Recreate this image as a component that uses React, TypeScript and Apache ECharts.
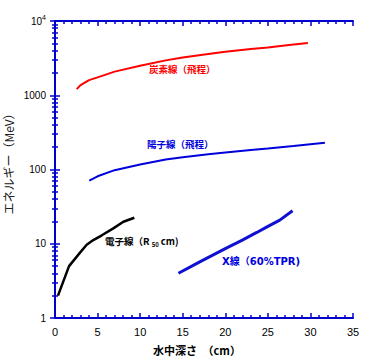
import React, { useEffect, useRef } from "react";
import * as echarts from "echarts";

const carbonX = [2.55, 3, 4, 5, 7, 10, 13, 15, 18, 20, 23, 25, 27.5, 29.7];
const carbonY = [1208, 1370, 1600, 1740, 2080, 2490, 2950, 3230, 3600, 3840, 4200, 4400, 4750, 5070];

const protonX = [4.03, 5, 7, 10, 13, 15, 18, 20, 23, 25, 28, 31.7];
const protonY = [71, 81, 98, 117, 136, 146, 161, 170, 183, 192, 207, 229];

const electronX = [0.35, 1.65, 2.94, 3.72, 4.5, 5.5, 6.85, 8.03, 9.32];
const electronY = [2.0, 5.0, 7.6, 9.7, 11.2, 13.0, 16.1, 19.8, 22.4];

const xrayX = [14.5, 17, 20, 22, 23.7, 24.9, 26.4, 27.9];
const xrayY = [4.0, 5.7, 8.6, 11.2, 14.2, 16.9, 20.8, 27.8];

const xTicks = [0, 5, 10, 15, 20, 25, 30, 35];
const yMinor = [2, 3, 4, 5, 6, 7, 8, 9, 20, 30, 40, 50, 60, 70, 80, 90, 200, 300, 400, 500, 600, 700, 800, 900, 2000, 3000, 4000, 5000, 6000, 7000, 8000, 9000];

const BLUE = "#0000cc";
const zip = (xs: number[], ys: number[]) => xs.map((x, i) => [x, ys[i]]);

const gridPos = { left: 55, right: 24, top: 21, bottom: 43 };

export default function App() {
  const ref = useRef<HTMLDivElement>(null);
  useEffect(() => {
    if (!ref.current) return;
    const chart = echarts.init(ref.current, null, { renderer: "svg" });
    const baseX = {
      type: "value",
      min: xTicks[0],
      max: xTicks[xTicks.length - 1],
      interval: 5,
      splitLine: { show: false },
      axisLine: { show: true, onZero: false, lineStyle: { color: BLUE, width: 2 } },
      axisTick: { show: true, inside: true, length: 5, lineStyle: { color: BLUE, width: 1.5 } },
      minorTick: { show: true, splitNumber: 5, length: 3, lineStyle: { color: BLUE, width: 1.5 } },
    };
    const baseY = {
      type: "log",
      logBase: 10,
      min: 1,
      max: 10000,
      splitLine: { show: false },
      minorTick: { show: false },
    };
    const hiddenX = (gi: number) => ({ type: "value", min: 0, max: 35, show: false, gridIndex: gi });
    const option: any = {
      animation: false,
      backgroundColor: "#ffffff",
      grid: [0, 1, 2, 3].map(() => ({ ...gridPos, containLabel: false })),
      xAxis: [
        {
          ...baseX,
          gridIndex: 0,
          position: "bottom",
          axisLabel: {
            show: true,
            margin: 8,
            color: "#000",
            fontFamily: "Liberation Sans, Arial, sans-serif",
            fontSize: 11,
          },
        },
        { ...baseX, gridIndex: 1, position: "top", axisLabel: { show: false } },
        hiddenX(2),
        hiddenX(3),
      ],
      yAxis: [
        {
          ...baseY,
          gridIndex: 0,
          position: "left",
          axisLine: { show: true, lineStyle: { color: BLUE, width: 2 } },
          axisTick: { show: true, inside: true, length: 5, lineStyle: { color: BLUE, width: 1.5 } },
          axisLabel: {
            show: true,
            margin: 9,
            color: "#000",
            fontFamily: "Liberation Sans, Arial, sans-serif",
            fontSize: 10,
            formatter: (v: number) => {
              const r = Math.round(v);
              if (r === 10000) return "{b|10}{s|4}";
              return String(r);
            },
            rich: {
              b: { fontSize: 10, color: "#000", fontFamily: "Liberation Sans, Arial, sans-serif" },
              s: { fontSize: 7, color: "#000", fontFamily: "Liberation Sans, Arial, sans-serif", padding: [0, 0, 7, 0] },
            },
          },
        },
        {
          ...baseY,
          gridIndex: 1,
          position: "right",
          axisLine: { show: true, lineStyle: { color: BLUE, width: 2 } },
          axisTick: { show: true, inside: true, length: 5, lineStyle: { color: BLUE, width: 1.5 } },
          axisLabel: { show: false },
        },
        {
          ...baseY,
          gridIndex: 2,
          position: "left",
          axisLine: { show: false },
          axisTick: { show: true, inside: true, length: 3, customValues: yMinor, lineStyle: { color: BLUE, width: 1.5 } },
          axisLabel: { show: false },
        },
        {
          ...baseY,
          gridIndex: 3,
          position: "right",
          axisLine: { show: false },
          axisTick: { show: true, inside: true, length: 3, customValues: yMinor, lineStyle: { color: BLUE, width: 1.5 } },
          axisLabel: { show: false },
        },
      ],
      series: [
        {
          type: "line",
          xAxisIndex: 0,
          yAxisIndex: 0,
          data: zip(carbonX, carbonY),
          showSymbol: false,
          lineStyle: { color: "#ff0000", width: 2 },
        },
        {
          type: "line",
          xAxisIndex: 0,
          yAxisIndex: 0,
          data: zip(protonX, protonY),
          showSymbol: false,
          lineStyle: { color: "#0000dd", width: 2 },
        },
        {
          type: "line",
          xAxisIndex: 0,
          yAxisIndex: 0,
          data: zip(electronX, electronY),
          showSymbol: false,
          lineStyle: { color: "#000000", width: 2.5 },
        },
        {
          type: "line",
          xAxisIndex: 0,
          yAxisIndex: 0,
          data: zip(xrayX, xrayY),
          showSymbol: false,
          lineStyle: { color: "#1010d0", width: 3 },
        },
      ],
      graphic: [
        {
          type: "text",
          x: 149,
          y: 64,
          style: {
            text: "炭素線（飛程）",
            fill: "#ff0000",
            font: "bold 9.5px 'Noto Sans CJK JP', sans-serif",
            textAlign: "left",
            textVerticalAlign: "top",
          },
        },
        {
          type: "text",
          x: 147,
          y: 139,
          style: {
            text: "陽子線（飛程）",
            fill: "#0000dd",
            font: "bold 9.5px 'Noto Sans CJK JP', sans-serif",
            textAlign: "left",
            textVerticalAlign: "top",
          },
        },
        {
          type: "text",
          x: 105,
          y: 235,
          style: {
            text: "{a|電子線（R }{s|50}{a| cm)}",
            textAlign: "left",
            textVerticalAlign: "top",
            rich: {
              a: { fill: "#000", font: "bold 9.5px 'Noto Sans CJK JP', sans-serif", color: "#000" },
              s: { fill: "#000", font: "bold 6px 'Noto Sans CJK JP', sans-serif", color: "#000", padding: [6, 0, 0, 0] },
            },
          },
        },
        {
          type: "text",
          x: 222,
          y: 256,
          style: {
            text: "X線（60%TPR)",
            fill: "#0000dd",
            font: "bold 10px 'DejaVu Sans', 'Noto Sans CJK JP', sans-serif",
            textAlign: "left",
            textVerticalAlign: "top",
          },
        },
        {
          type: "text",
          x: 197,
          y: 350,
          style: {
            text: "水中深さ　（cm）",
            fill: "#000",
            font: "bold 11px 'Noto Sans CJK JP', sans-serif",
            textAlign: "center",
            textVerticalAlign: "middle",
          },
        },
        {
          type: "text",
          x: 8,
          y: 161,
          rotation: Math.PI / 2,
          style: {
            text: "エネルギー（MeV）",
            fill: "#222",
            font: "12px 'Noto Sans CJK JP', sans-serif",
            textAlign: "center",
            textVerticalAlign: "middle",
          },
        },
      ],
    };
    chart.setOption(option);
    return () => chart.dispose();
  }, []);
  return (
    <div
      ref={ref}
      style={{ position: "fixed", left: 0, top: 0, width: 377, height: 361, background: "#fff" }}
    />
  );
}
